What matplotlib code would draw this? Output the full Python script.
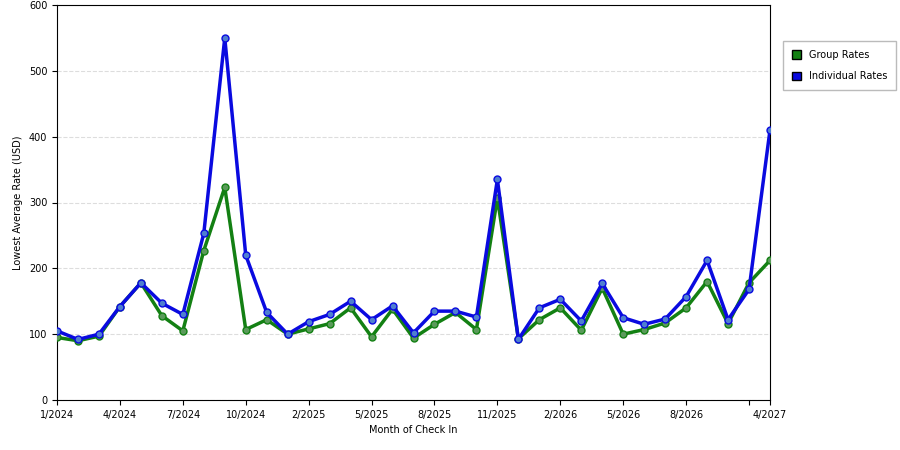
import matplotlib
matplotlib.use("Agg")
import matplotlib.pyplot as plt

group = [95,90,97,142,178,128,105,227,323,107,122,100,108,116,140,96,138,94,115,133,107,307,93,122,140,106,170,100,107,117,140,180,116,178,212]
indiv = [105,92,100,142,178,147,130,253,550,220,133,100,119,130,150,122,143,102,135,135,126,335,92,140,153,120,177,125,115,123,157,212,122,168,410]
tick_pos = [0,3,6,9,12,15,18,21,24,27,30,33,34]
tick_labels = ["1/2024","4/2024","7/2024","10/2024","2/2025","5/2025","8/2025","11/2025","2/2026","5/2026","8/2026","","4/2027"]

fig = plt.figure(figsize=(9,4.5), dpi=100)
ax = fig.add_axes([57/900, 50/450, 713/900, 395/450])
x = list(range(len(group)))
ax.plot(x, group, color="#138013", lw=2.5, marker="o", ms=5, mfc="#5a9a5a", mec="#138013", label="Group Rates", zorder=3)
ax.plot(x, indiv, color="#0a0ae0", lw=2.5, marker="o", ms=5, mfc="#4f7fd0", mec="#0a0ae0", label="Individual Rates", zorder=4)
ax.set_xlim(0, 34)
ax.set_ylim(0, 600)
ax.set_yticks(range(0,601,100))
ax.set_xticks(tick_pos)
ax.set_xticklabels(tick_labels)
ax.tick_params(labelsize=7)
ax.grid(axis="y", ls="--", color="#dddddd", lw=0.8)
ax.set_xlabel("Month of Check In", fontsize=7)
ax.set_ylabel("Lowest Average Rate (USD)", fontsize=7)
from matplotlib.patches import Patch
h = [Patch(facecolor="#138013", edgecolor="black"), Patch(facecolor="#0a0ae0", edgecolor="black")]
fig.legend(h, ["Group Rates","Individual Rates"], loc="upper left", bbox_to_anchor=(778/900, 1-36/450),
           fontsize=7, frameon=True, fancybox=False, edgecolor="#aaaaaa", handlelength=1, handleheight=1,
           labelspacing=1.2, borderpad=0.9)
fig.savefig("out.png")
